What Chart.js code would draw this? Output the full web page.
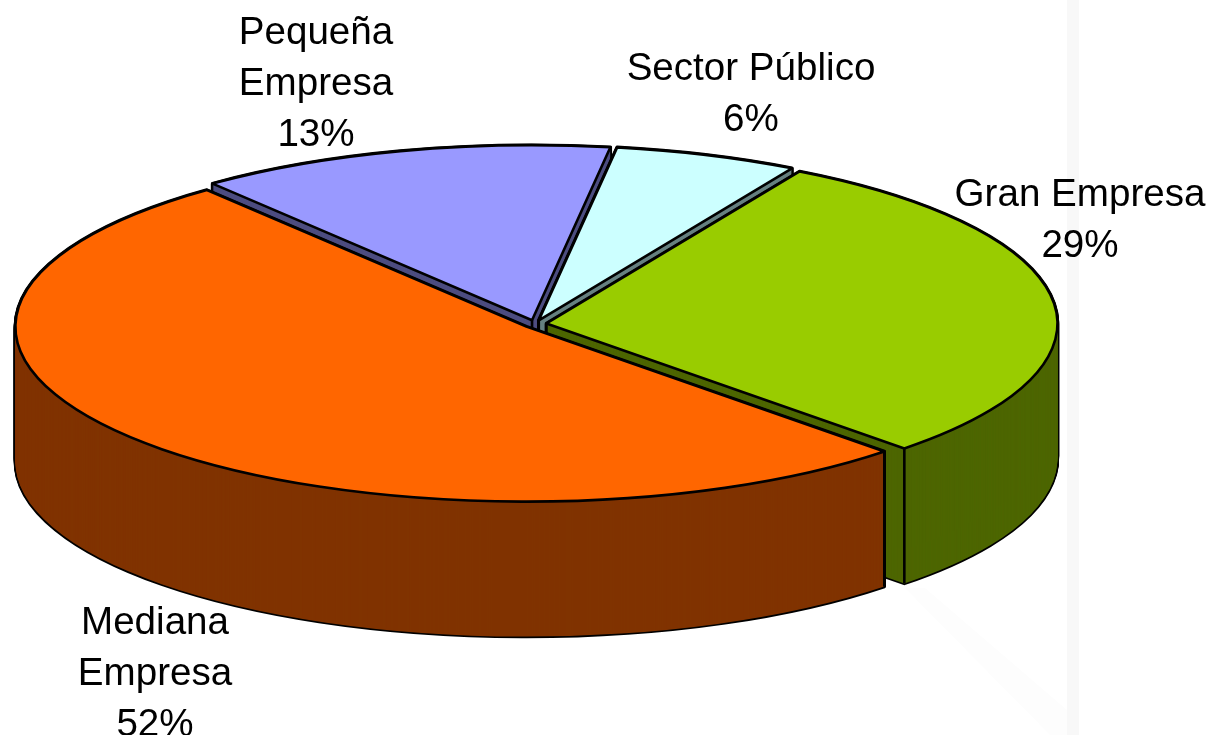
<!DOCTYPE html>
<html lang="es">
<head>
<meta charset="utf-8">
<title>Empresas</title>
<script src="https://cdn.jsdelivr.net/npm/chart.js@4"></script>
<style>
  html, body { margin: 0; padding: 0; background: #fff; }
  #wrap { width: 1211px; height: 735px; }
</style>
</head>
<body>
<div id="wrap"><canvas id="grafico" width="1211" height="735"></canvas></div>
<script>
// datos (las etiquetas redondean)
const categorias = ['Gran Empresa', 'Mediana Empresa', 'Pequeña Empresa', 'Sector Público'];
const valores = [29.4, 51.6, 13.2, 5.8];
const coloresCara = ['#99CC00', '#FF6600', '#9999FF', '#CCFFFF'];
const coloresPared = ['#4D6600', '#803300', '#4D4D80', '#668080'];
const lineasEtiqueta = [['Gran Empresa'], ['Mediana', 'Empresa'], ['Pequeña', 'Empresa'], ['Sector Público']];

// inclinacion del pastel
const RADIO_X = 511;
const RADIO_Y = 175;
const PROFUNDIDAD = 135;
const SEPARACION = 7.3; // porciones separadas del centro
const ORDEN_PAREDES = [2, 3, 0, 1]; // de atras hacia adelante

// centro de cada etiqueta (x, primera linea y)
const posEtiquetas = [[1080, 195], [155, 623], [316, 33], [751, 69]];
const ALTO_LINEA = 51;

function escala(arc) {
  return { sx: RADIO_X / arc.outerRadius, sy: RADIO_Y / arc.outerRadius };
}

function desplazamiento(arc) {
  const medio = (arc.startAngle + arc.endAngle) / 2;
  return { x: Math.cos(medio) * SEPARACION, y: Math.sin(medio) * SEPARACION };
}

// pone el contexto en el plano inclinado de la porcion
function aplicarPlano(ctx, arc, dy) {
  const { sx, sy } = escala(arc);
  const d = desplazamiento(arc);
  ctx.translate(arc.x, arc.y + dy);
  ctx.scale(sx, sy);
  ctx.translate(-arc.x + d.x, -arc.y + d.y);
}

function trazarSector(ctx, arc, dy) {
  ctx.save();
  aplicarPlano(ctx, arc, dy);
  ctx.beginPath();
  ctx.moveTo(arc.x, arc.y);
  ctx.arc(arc.x, arc.y, arc.outerRadius, arc.startAngle, arc.endAngle);
  ctx.closePath();
  ctx.restore();
}

function lineaVertical(ctx, arc, px, py) {
  const { sx, sy } = escala(arc);
  const d = desplazamiento(arc);
  const x = arc.x + (px + d.x) * sx;
  const y = arc.y + (py + d.y) * sy;
  ctx.beginPath();
  ctx.moveTo(x, y);
  ctx.lineTo(x, y + PROFUNDIDAD);
  ctx.stroke();
}

function dibujarPared(ctx, arc, color) {
  ctx.lineJoin = 'round';
  ctx.strokeStyle = '#000';
  ctx.lineWidth = 3.5;
  for (let d = PROFUNDIDAD; d >= 0; d--) {
    trazarSector(ctx, arc, d);
    ctx.stroke();
  }
  ctx.fillStyle = color;
  for (let d = PROFUNDIDAD; d >= 0; d--) {
    trazarSector(ctx, arc, d);
    ctx.fill();
  }
  ctx.lineWidth = 2.6;
  // solo las esquinas del frente se ven
  [arc.startAngle, arc.endAngle].forEach(ang => {
    if (Math.sin(ang) > 0) {
      lineaVertical(ctx, arc, Math.cos(ang) * arc.outerRadius, Math.sin(ang) * arc.outerRadius);
    }
  });
  lineaVertical(ctx, arc, 0, 0);
}

// marca de agua muy tenue del fondo
const fondoTenue = {
  id: 'fondoTenue',
  beforeDraw(chart) {
    const ctx = chart.ctx;
    ctx.save();
    ctx.fillStyle = '#f8f8f8';
    ctx.fillRect(1067, 0, 12, 735);
    ctx.beginPath();
    ctx.moveTo(905, 588);
    ctx.lineTo(925, 588);
    ctx.lineTo(1067, 710);
    ctx.lineTo(1067, 735);
    ctx.lineTo(1050, 735);
    ctx.closePath();
    ctx.fillStyle = '#fdfdfd';
    ctx.fill();
    ctx.restore();
  }
};

const pastel3d = {
  id: 'pastel3d',
  beforeDatasetDraw() {
    return false; // las caras se pintan abajo, una por una
  },
  afterDatasetsDraw(chart) {
    const ctx = chart.ctx;
    const arcos = chart.getDatasetMeta(0).data;
    ctx.save();
    ORDEN_PAREDES.forEach(i => dibujarPared(ctx, arcos[i], coloresPared[i]));
    arcos.forEach(arc => {
      ctx.save();
      aplicarPlano(ctx, arc, 0);
      arc.draw(ctx);
      ctx.restore();
    });
    ctx.strokeStyle = '#000';
    ctx.lineWidth = 2.6;
    ctx.lineJoin = 'round';
    arcos.forEach(arc => {
      trazarSector(ctx, arc, 0);
      ctx.stroke();
    });
    ctx.fillStyle = '#000';
    ctx.font = '38.6px "Liberation Sans", Arial, sans-serif';
    ctx.textAlign = 'center';
    ctx.textBaseline = 'middle';
    categorias.forEach((cat, i) => {
      const lineas = lineasEtiqueta[i].concat(Math.round(valores[i]) + '%');
      lineas.forEach((txt, n) => {
        ctx.fillText(txt, posEtiquetas[i][0], posEtiquetas[i][1] + n * ALTO_LINEA);
      });
    });
    ctx.restore();
  }
};

new Chart(document.getElementById('grafico'), {
  type: 'pie',
  data: {
    labels: categorias,
    datasets: [{
      data: valores,
      backgroundColor: coloresCara,
      borderWidth: 0,
      clip: false
    }]
  },
  options: {
    responsive: false,
    animation: false,
    rotation: 29.7,
    layout: { padding: { left: 0, top: 0, right: 141, bottom: 87 } },
    events: [],
    plugins: {
      legend: { display: false },
      tooltip: { enabled: false }
    }
  },
  plugins: [fondoTenue, pastel3d]
});
</script>
</body>
</html>
